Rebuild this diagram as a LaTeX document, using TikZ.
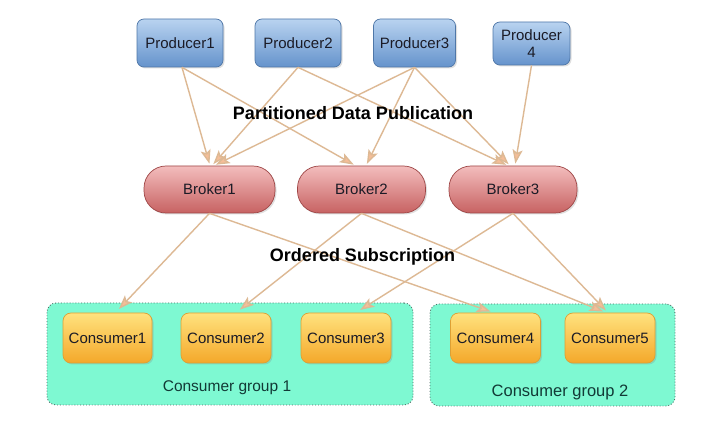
\documentclass[tikz,border=0pt]{standalone}
\usepackage{fontspec}
\setmainfont{Liberation Sans}
\usetikzlibrary{arrows.meta,backgrounds,shadows}
\definecolor{prodtop}{HTML}{B9D3F0}
\definecolor{prodbot}{HTML}{6593CC}
\definecolor{prodedge}{HTML}{4F77A8}
\definecolor{brktop}{HTML}{F3BDBD}
\definecolor{brkbot}{HTML}{C76262}
\definecolor{brkedge}{HTML}{9E4646}
\definecolor{contop}{HTML}{FFE27E}
\definecolor{conbot}{HTML}{F4A82A}
\definecolor{conedge}{HTML}{DDA034}
\definecolor{grpfill}{HTML}{7EF9D2}
\definecolor{grpedge}{HTML}{4E6E66}
\definecolor{arrline}{HTML}{DDB994}
\definecolor{arrfill}{HTML}{F5BE98}
\definecolor{txtdark}{HTML}{1B1B26}
\definecolor{grptxt}{HTML}{123A36}
\begin{document}
\begin{tikzpicture}[x=1pt,y=-1pt,
  shad/.style={drop shadow={opacity=0.25,shadow xshift=1.5pt,shadow yshift=-1.5pt}},
  boxfont/.style={font=\fontsize{15}{16}\selectfont},
  prod/.style={rectangle,rounded corners=7pt,draw=prodedge,line width=0.7pt,
    top color=prodtop,bottom color=prodbot,minimum height=48pt,inner sep=1pt,
    text=txtdark,boxfont,shad,align=center},
  brk/.style={rectangle,rounded corners=22pt,draw=brkedge,line width=0.7pt,
    top color=brktop,bottom color=brkbot,minimum height=47pt,minimum width=128pt,
    text=txtdark,boxfont,shad},
  cons/.style={rectangle,rounded corners=8pt,draw=conedge,line width=0.7pt,
    top color=contop,bottom color=conbot,minimum height=50pt,minimum width=90pt,
    text=txtdark,boxfont,shad},
  grp/.style={rectangle,rounded corners=9pt,draw=grpedge,dotted,line width=0.9pt,
    fill=grpfill,inner sep=0pt},
  arr/.style={draw=arrline,line width=1.4pt,
    -{Stealth[length=14pt,width=10pt,inset=3pt,fill=arrfill]}},
  lbl/.style={font=\bfseries\fontsize{18}{20}\selectfont,text=black},
  glbl/.style={text=grptxt}
]
\useasboundingbox (0,0) rectangle (702,430);

% producers
\node[prod,minimum width=86pt] (P1) at (180,43) {Producer1};
\node[prod,minimum width=86pt] (P2) at (298,43) {Producer2};
\node[prod,minimum width=82pt] (P3) at (414.5,43) {Producer3};
\node[prod,minimum width=77pt,minimum height=43pt,font=\fontsize{15}{17}\selectfont] (P4) at (531.5,43.5) {Producer\\4};

% brokers
\node[brk,minimum width=131pt] (B1) at (209.5,189.5) {Broker1};
\node[brk] (B2) at (361.5,189.5) {Broker2};
\node[brk] (B3) at (513,189.5) {Broker3};

% consumers
\node[cons,minimum width=89pt] (C1) at (107.5,338) {Consumer1};
\node[cons] (C2) at (226,338) {Consumer2};
\node[cons] (C3) at (346,338) {Consumer3};
\node[cons] (C4) at (495.5,338) {Consumer4};
\node[cons] (C5) at (610,338) {Consumer5};

% groups
\begin{scope}[on background layer]
\fill[white] (0,0) rectangle (702,430);
\node[grp,minimum width=366pt,minimum height=102pt] (G1) at (230,354) {};
\node[grp,minimum width=245pt,minimum height=102pt] (G2) at (552.5,355) {};
\end{scope}
\node[glbl,font=\fontsize{15.5}{17}\selectfont] (G1l) at (227,388) {Consumer group 1};
\node[glbl,font=\fontsize{16.5}{18}\selectfont] (G2l) at (560,392) {Consumer group 2};

% producer -> broker
\draw[arr,shorten >=2pt] ([xshift=2pt]P1.south) -- ([xshift=0.5pt]B1.north);
\draw[arr,shorten >=2pt] ([xshift=2pt]P1.south) -- ([xshift=-6pt]B2.north);
\draw[arr,shorten >=2pt] (P2.south) -- ([xshift=2.5pt]B1.north);
\draw[arr,shorten >=2pt] (P2.south) -- ([xshift=-5pt]B3.north);
\draw[arr,shorten >=2pt] (P3.south) -- ([xshift=4.5pt]B1.north);
\draw[arr,shorten >=2pt] (P3.south) -- ([xshift=4.5pt]B2.north);
\draw[arr,shorten >=2pt] (P3.south) -- ([xshift=-3pt]B3.north);
\draw[arr,shorten >=2pt] (P4.south) -- ([xshift=2pt]B3.north);

% broker -> consumer
\draw[arr,shorten >=5pt] (B1.south) -- ([xshift=8pt]C1.north);
\draw[arr,shorten >=3pt] (B1.south) -- ([xshift=-2pt]C4.north);
\draw[arr,shorten >=5pt] (B2.south) -- ([xshift=10pt]C2.north);
\draw[arr,shorten >=3pt] (B2.south) -- ([xshift=-4pt]C5.north);
\draw[arr,shorten >=5pt] (B3.south) -- ([xshift=10pt]C3.north);
\draw[arr,shorten >=3pt] (B3.south) -- ([xshift=-2pt]C5.north);

% labels
\node[lbl] (L1) at (353,113) {Partitioned Data Publication};
\node[lbl] (L2) at (362.5,257) {Ordered Subscription};
\end{tikzpicture}
\end{document}
